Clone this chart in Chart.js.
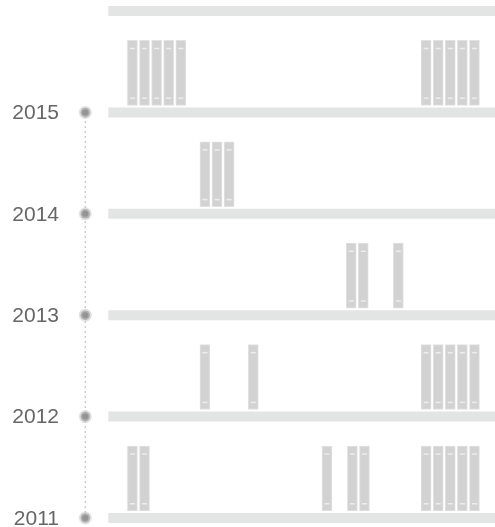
<!DOCTYPE html>
<html>
<head>
<meta charset="utf-8">
<script src="https://cdn.jsdelivr.net/npm/chart.js@4/dist/chart.umd.min.js"></script>
<style>
  html, body { margin: 0; padding: 0; background: #fff; }
  #wrap { width: 495px; height: 527px; }
</style>
</head>
<body>
<div id="wrap"><canvas id="shelf" width="495" height="527"></canvas></div>
<script>
// ── dados: ano -> posições dos livros na prateleira ──
const years = [2011, 2012, 2013, 2014, 2015];
const books2011 = [0, 1, 16.1, 18.2, 19.2, 24.3, 25.3, 26.3, 27.3, 28.3];
const books2012 = [6, 10, 24.3, 25.3, 26.3, 27.3, 28.3];
const books2013 = [18.1, 19.1, 22];
const books2014 = [6, 7, 8];
const books2015 = [0, 1, 2, 3, 4, 24.3, 25.3, 26.3, 27.3, 28.3];
const booksByYear = [books2011, books2012, books2013, books2014, books2015];

// ── geometria (unidades do eixo) ──
const BOOK_BASE = 0.07, BOOK_TOP = 0.71;
const BAND_LOW = 0.14, BAND_HIGH = 0.63;
const SHELF_START = -2, X_MIN = -5, X_MAX = 30;
const TIMELINE_X = -3.9;

const COLORS = {
  book: '#d2d2d2',
  bookEdge: '#e1e1e1',
  band: '#ededed',
  shelf: '#e3e4e4',
  dot: '#949494',
  halo: 'rgba(200,200,200,0.55)',
  timeline: '#cccccc',
  label: '#666666'
};

const bookBars = [];
const bands = [];
booksByYear.forEach((list, i) => {
  const yr = years[i];
  list.forEach(x => {
    bookBars.push({ x, y: [yr + BOOK_BASE, yr + BOOK_TOP] });
    bands.push({ x, y: yr + BAND_LOW });
    bands.push({ x, y: yr + BAND_HIGH });
  });
});

const shelfYears = years.concat([years[years.length - 1] + 1]);
const shelfSets = shelfYears.map(yr => ({
  type: 'line',
  data: [{ x: SHELF_START, y: yr }, { x: X_MAX, y: yr }],
  borderColor: COLORS.shelf,
  borderWidth: 10,
  borderCapStyle: 'butt',
  pointRadius: 0,
  order: 3
}));

new Chart(document.getElementById('shelf'), {
  type: 'bar',
  data: {
    datasets: [
      {
        type: 'bar',
        data: bookBars,
        backgroundColor: COLORS.book,
        borderColor: COLORS.bookEdge,
        borderWidth: 1,
        borderSkipped: false,
        barThickness: 10,
        grouped: false,
        order: 2
      },
      {
        type: 'scatter',
        data: bands,
        pointStyle: 'line',
        radius: 2.5,
        borderColor: COLORS.band,
        borderWidth: 1.5,
        order: 1
      },
      ...shelfSets,
      {
        type: 'line',
        data: [{ x: TIMELINE_X, y: years[0] }, { x: TIMELINE_X, y: years[years.length - 1] }],
        borderColor: COLORS.timeline,
        borderWidth: 1.5,
        borderDash: [2, 3],
        pointRadius: 0,
        order: 4
      },
      {
        type: 'scatter',
        data: years.map(yr => ({ x: TIMELINE_X, y: yr })),
        radius: 4.75,
        backgroundColor: COLORS.dot,
        borderColor: COLORS.halo,
        borderWidth: 3.5,
        order: 0
      }
    ]
  },
  options: {
    responsive: false,
    animation: false,
    layout: { padding: 0, autoPadding: false },
    plugins: { legend: { display: false }, tooltip: { enabled: false } },
    scales: {
      x: {
        type: 'linear',
        min: X_MIN,
        max: X_MAX,
        offset: false,
        display: false
      },
      y: {
        type: 'linear',
        min: 2010.911,
        max: 2016.1085,
        grid: { display: false, drawTicks: false },
        border: { display: false },
        afterBuildTicks: axis => { axis.ticks = years.map(v => ({ value: v })); },
        afterFit: axis => {
          axis.width = 72;
          axis.paddingTop = 0;
          axis.paddingBottom = 0;
        },
        ticks: {
          padding: 13,
          labelOffset: 1,
          color: COLORS.label,
          font: { family: "'Liberation Sans', Arial, sans-serif", size: 21 },
          callback: v => String(v)
        }
      }
    }
  }
});
</script>
</body>
</html>
